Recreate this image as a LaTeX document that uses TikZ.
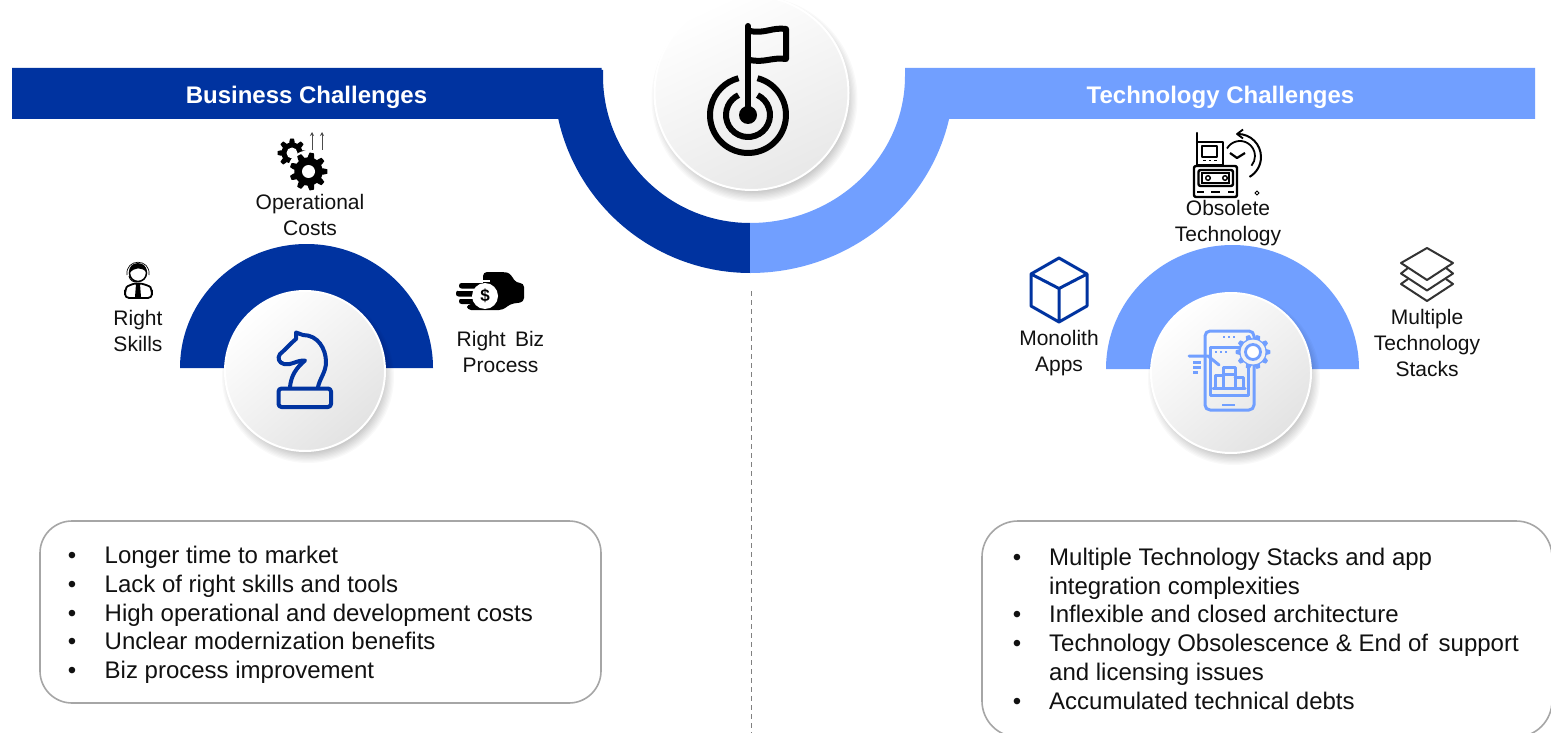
\documentclass[tikz,border=0pt]{standalone}
\usepackage{fontspec}
\usetikzlibrary{arrows.meta}
\setmainfont{Liberation Sans}
\definecolor{navy}{HTML}{0033A0}
\definecolor{sky}{HTML}{719FFF}
\definecolor{ink}{HTML}{111111}
\newcommand{\gearfill}[6]{%
  \fill[#6] plot[domain=0:360,samples=\numexpr #5*12+1\relax]
  ({#1+(#3+#4*max(-1,min(1,2.5*cos(#5*\x))))*cos(\x)},{#2+(#3+#4*max(-1,min(1,2.5*cos(#5*\x))))*sin(\x)}) -- cycle;}
\newcommand{\softshadow}[3]{%
  \foreach \i in {0,...,9}{\fill[black,opacity=.024] (#1+3,#2+6) circle ({#3+6-1.3*\i});}}
\tikzset{
  lbl/.style={font=\fontsize{21}{26}\selectfont,align=center,text=ink,inner sep=0},
  head/.style={font=\fontsize{24}{28}\selectfont\bfseries,text=white,inner sep=0},
  item/.style={font=\fontsize{24}{28}\selectfont,text=ink,anchor=base west,inner sep=0},
  dot/.style={font=\fontsize{24}{28}\selectfont,text=ink,anchor=base,inner sep=0},
  panel/.style={draw=black!35,line width=1.6pt,rounded corners=32pt,fill=white},
  hubbig/.style={circle,minimum size=194pt,inner sep=0,draw=white,line width=2pt,top color=white,bottom color=black!9,shading angle=25},
  hubsmall/.style={circle,minimum size=160pt,inner sep=0,draw=white,line width=2pt,top color=white,bottom color=black!11,shading angle=40},
  navyline/.style={draw=navy,line width=4pt,line join=round,line cap=round},
  skyline/.style={draw=sky,line width=3pt,line join=round,line cap=round},
  kline/.style={draw=black,line width=2.4pt,line join=round,line cap=round},
}
\begin{document}
\begin{tikzpicture}[x=1pt,y=-1pt]
\useasboundingbox (0,0) rectangle (1551,733);
\clip (0,0) rectangle (1551,733);
\fill[white] (0,0) rectangle (1551,733);

% dashed divider
\coordinate (dashA) at (751,291);
\coordinate (dashB) at (751,733);
\draw[black!50,line width=1pt,dashed,dash pattern=on 5pt off 4pt] (dashA) -- (dashB);

% banner + large half rings
\fill[navy] (12,68) -- (601.5,68) -- (601.5,70) -- (603,70) -- (603,76) arc[start angle=180,end angle=90,x radius=147,y radius=147]
  -- (750.5,273) arc[start angle=90,end angle=167.4,x radius=197,y radius=197] -- (12,119) -- cycle;
\fill[sky] (1535,68) -- (905,68) -- (905,76) arc[start angle=0,end angle=90,x radius=155,y radius=147]
  -- (750,273) arc[start angle=90,end angle=12.6,x radius=204,y radius=197] -- (1535,119) -- cycle;
\node[head] (bizhead) at (306.5,97) {Business Challenges};
\node[head] (techhead) at (1220.5,97) {Technology Challenges};

% centre hub
\softshadow{751.5}{93}{97}
\node[hubbig] (hub) at (751.5,93) {};
\draw[line width=6pt,line cap=round] (748,26) -- (748,115);
\fill (748,115) circle (9);
\draw[line width=6pt] (748,115) ++(-75.5:38) arc[start angle=-75.5,end angle=255.5,radius=38];
\draw[line width=6pt] (748,115) ++(-64.4:22) arc[start angle=-64.4,end angle=244.4,radius=22];
\draw[line width=6pt,line join=round,line cap=round] (750,31) .. controls (765,34) and (772,27) .. (786,29) -- (786,59) .. controls (772,57) and (765,63) .. (750,60);

% small half rings
\fill[navy] (180,368) arc[start angle=180,end angle=360,x radius=126.5,y radius=124] -- cycle;
\fill[sky] (1106,369) arc[start angle=180,end angle=360,x radius=126.5,y radius=124] -- cycle;
\softshadow{305}{371}{80}
\softshadow{1231}{373}{80}
\node[hubsmall] (bizhub) at (305,371) {};
\node[hubsmall] (techhub) at (1231,373) {};

% knight
\draw[navyline,rounded corners=3pt] (278.5,388.5) rectangle (331,407);
\draw[navyline] (290,387) .. controls (291,376) and (296,368) .. (305,360.5)
  .. controls (297,360) and (290,366) .. (284,364) .. controls (279,363) and (277,358) .. (280,354)
  .. controls (285,350) and (291,343) .. (296,339) -- (296,332.5) -- (303,335)
  .. controls (318,335) and (326,349) .. (326,362) .. controls (326,372) and (320,378) .. (318,387);

% technology icon (phone)
\draw[skyline,rounded corners=5pt] (1205,331) rectangle (1254,410);
\draw[skyline] (1210,347) rectangle (1248,395);
\draw[sky,line width=2.4pt] (1223,337) -- (1225,337) (1228,337) -- (1230,337) (1233,337) -- (1235,337);
\draw[sky,line width=2.4pt] (1215,352) -- (1217,352) (1220,352) -- (1222,352) (1225,352) -- (1227,352);
\draw[sky,line width=2.8pt] (1222,405) -- (1235,405);
\draw[skyline] (1223,388) -- (1223,367) -- (1235,367) -- (1235,388) (1223,374) -- (1235,374);
\draw[skyline] (1215,388) -- (1215,375) -- (1223,375) (1235,377) -- (1243,377) -- (1243,388) (1213,388) -- (1245,388);
\draw[skyline] (1189,356) -- (1208,356) -- (1219,365);
\draw[sky,line width=3pt] (1193,362.5) -- (1201,362.5) (1193,367.5) -- (1201,367.5) (1193,372.5) -- (1198,372.5);
\gearfill{1253}{352}{15.5}{1.8}{10}{sky}
\fill[black!5] (1253,352) circle (12.5);
\draw[sky,line width=2.8pt,fill=white] (1253,352) circle (7.5);

% Operational costs icon
\gearfill{292}{153}{12.5}{2}{8}{black}
\fill[white] (292,153) circle (5.5);
\fill[white] (308,171) circle (20.5);
\gearfill{308.5}{171.5}{16.5}{2.4}{9}{black}
\fill[white] (308.5,171.5) circle (6.5);
\draw[black!70,line width=1pt,-{Stealth[length=4pt,width=4pt]}] (312,150) -- (312,132);
\draw[black!70,line width=1pt,-{Stealth[length=4pt,width=4pt]}] (322,150) -- (322,132);

% Right skills icon
\draw[black,line width=1.8pt,fill=white,rounded corners=4pt] (125,298) -- (125,291) .. controls (127,286) and (133,284) .. (138,283) .. controls (143,284) and (150,286) .. (152,291) -- (152,298) -- cycle;
\fill (136,284) -- (140,284) -- (141,297) -- (138,298) -- (135,297) -- cycle;
\draw[line width=1.5pt,fill=white] (138,273) circle (8.5);
\fill (129.5,273) .. controls (127,260) and (148,260) .. (146.5,272) .. controls (141,267) and (135,267) .. (129.5,273) -- cycle;
\draw[line width=.7pt] (127,275) .. controls (125,258) and (151,258) .. (149,275);
\draw[line width=1pt] (129,276) .. controls (130,281) and (134,282) .. (137,282);

% Right biz process icon
\fill[rounded corners=4pt] (483,272) -- (503,272) .. controls (510,273) and (513,278) .. (516,283) -- (524,283) -- (524,302) -- (510,304) -- (503,310) -- (467,310) -- (467,304) -- (483,304) -- cycle;
\fill[rounded corners=2.5pt] (459,283) rectangle (490,288.5);
\fill[rounded corners=2.5pt] (456,290.5) rectangle (490,296.5);
\fill[rounded corners=2.5pt] (459,298.5) rectangle (490,304);
\fill[white] (478,279.5) rectangle (490,282);
\fill[white] (458,288.5) rectangle (480,290.5);
\fill[white] (458,296.5) rectangle (480,298.5);
\node[circle,fill=white,minimum size=26pt,inner sep=0,font=\fontsize{17}{17}\selectfont\bfseries] (coin) at (485,296) {\$};

% Obsolete technology icon
\draw[kline] (1197,133) -- (1197,165) -- (1223,165) -- (1223,142) -- (1197,142);
\draw[kline] (1202,146) rectangle (1217,157);
\draw[line width=1.8pt] (1203,160.5) -- (1205.5,160.5) (1208.5,160.5) -- (1211,160.5) (1214,160.5) -- (1216.5,160.5);
\draw[kline,rounded corners=2pt] (1194,166) rectangle (1237,197);
\draw[kline,rounded corners=2pt] (1198.5,170) rectangle (1233,186);
\draw[line width=1.4pt] (1202,173) rectangle (1229,183);
\draw[line width=1.4pt] (1208,178) circle (2.3) (1225,178) circle (2.3);
\draw[line width=1.8pt] (1197,192) -- (1204,192) (1211,192) -- (1220,192) (1228,192) -- (1234,192);
\draw[line width=1.8pt] (1227,148.5) arc[start angle=-150,end angle=40,radius=15];
\draw[line width=2.2pt,line join=round] (1230,153) -- (1237,158) -- (1245,153);
\draw[line width=2pt] (1238,134) arc[start angle=-90,end angle=60,radius=23];
\draw[line width=1.8pt,line join=round] (1243,129.5) -- (1237,134) -- (1243,138.5);
\draw[line width=1pt] (1257,191) -- (1259,193) -- (1257,195) -- (1255,193) -- cycle;

% Monolith icon
\draw[draw=navy,line width=3pt,line join=round] (1059,258) -- (1087,274) -- (1087,306) -- (1059,322) -- (1031,306) -- (1031,274) -- cycle
  (1031,274) -- (1059,288.5) -- (1087,274) (1059,288.5) -- (1059,322);

% Stacks icon
\draw[draw=black!80,line width=2pt,line join=round] (1427,248) -- (1453,263) -- (1427,280) -- (1401,263) -- cycle;
\draw[draw=black!80,line width=2pt,line join=round] (1408,268) -- (1401,273.5) -- (1427,290.5) -- (1453,273.5) -- (1446,268);
\draw[draw=black!80,line width=2pt,line join=round] (1408,279) -- (1401,284) -- (1427,301) -- (1453,284) -- (1446,279);

% labels
\node[lbl] (l1) at (310,215) {Operational\\Costs};
\node[lbl] (l2) at (138,331) {Right\\Skills};
\node[lbl] (l3) at (500.5,352) {Right\, Biz\\Process};
\node[lbl] (l4) at (1228,223) {Obsolete\\Technology};
\node[lbl] (l5) at (1059,353.5) {Monolith\\Apps};
\node[lbl] (l6) at (1427,343) {Multiple\\Technology\\Stacks};

% left panel
\node[panel,minimum width=561pt,minimum height=182pt,inner sep=0] (bizpanel) at (320.5,612) {};
\node[dot] (b1) at (72,563) {•}; \node[item] (t1) at (104.5,563) {Longer time to market};
\node[dot] (b2) at (72,592) {•}; \node[item] (t2) at (104.5,592) {Lack of right skills and tools};
\node[dot] (b3) at (72,621) {•}; \node[item] (t3) at (104.5,621) {High operational and development costs};
\node[dot] (b4) at (72,649) {•}; \node[item] (t4) at (104.5,649) {Unclear modernization benefits};
\node[dot] (b5) at (72,678) {•}; \node[item] (t5) at (104.5,678) {Biz process improvement};

% right panel
\node[panel,minimum width=570pt,minimum height=216pt,inner sep=0,rounded corners=36pt] (techpanel) at (1267,629) {};
\node[dot] (c1) at (1017,565) {•}; \node[item] (u1) at (1049,565) {Multiple Technology Stacks and app};
\node[item] (u2) at (1049,594) {integration complexities};
\node[dot] (c2) at (1017,622) {•}; \node[item] (u3) at (1049,622) {Inflexible and closed architecture};
\node[dot] (c3) at (1017,651) {•}; \node[item] (u4) at (1049,651) {Technology Obsolescence \& End of\, support};
\node[item] (u5) at (1049,680) {and licensing issues};
\node[dot] (c4) at (1017,709) {•}; \node[item] (u6) at (1049,709) {Accumulated technical debts};
\end{tikzpicture}
\end{document}
